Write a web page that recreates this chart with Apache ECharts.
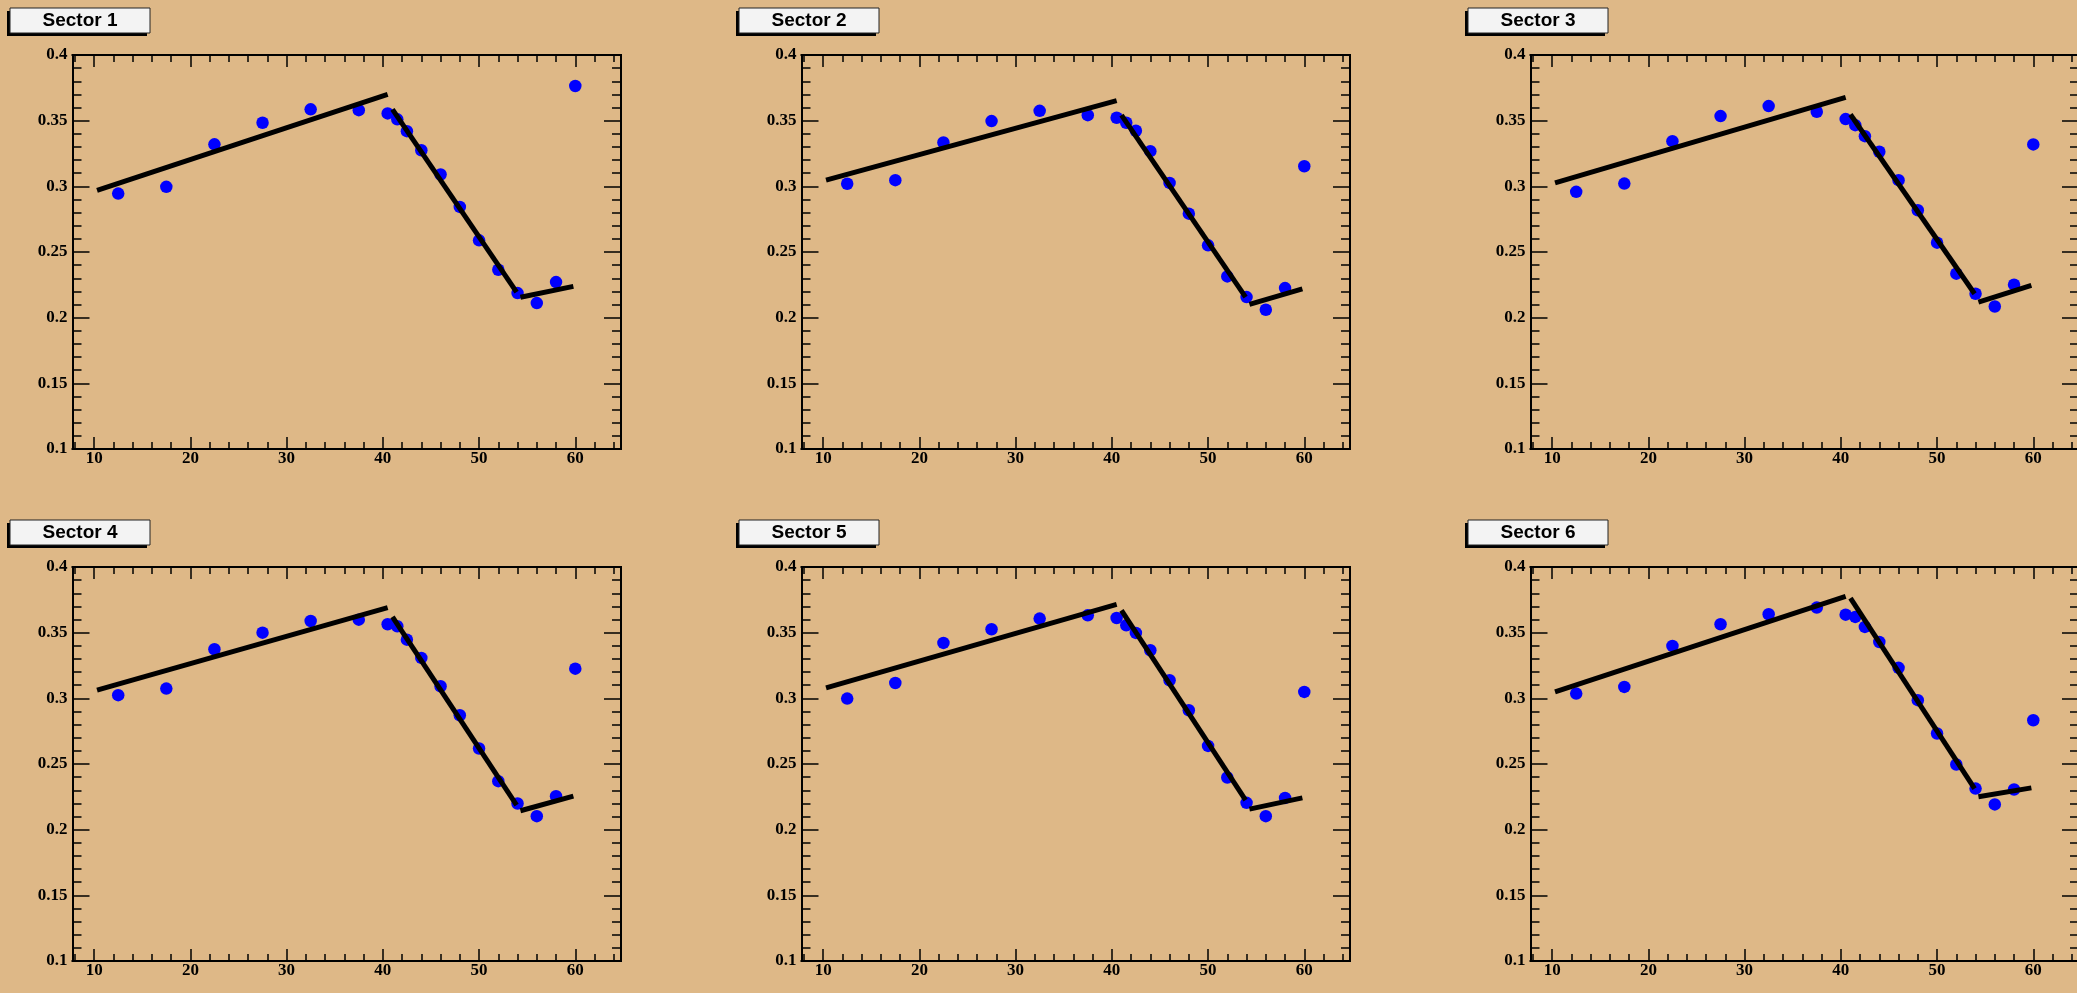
<!DOCTYPE html>
<html><head><meta charset="utf-8">
<script src="https://cdn.jsdelivr.net/npm/echarts@6/dist/echarts.min.js"></script>
<style>html,body{margin:0;padding:0;background:#deb887;overflow:hidden}#c{width:2077px;height:993px}</style>
</head><body><div id="c"></div>
<script>
const sectorNames = ['Sector 1', 'Sector 2', 'Sector 3', 'Sector 4', 'Sector 5', 'Sector 6'];
const xValues = [12.5, 17.5, 22.5, 27.5, 32.5, 37.5, 40.5, 41.5, 42.5, 44, 46, 48, 50, 52, 54, 56, 58, 60];
const sector1Y = [0.2945, 0.2996, 0.332, 0.3484, 0.3586, 0.358, 0.3555, 0.351, 0.342, 0.3275, 0.309, 0.2843, 0.2589, 0.2365, 0.2187, 0.2111, 0.2271, 0.3764];
const sector2Y = [0.302, 0.3047, 0.3334, 0.3497, 0.3575, 0.3542, 0.3522, 0.3484, 0.3423, 0.3268, 0.3026, 0.2792, 0.2551, 0.2314, 0.2157, 0.206, 0.2225, 0.3153];
const sector3Y = [0.2958, 0.3021, 0.3344, 0.3535, 0.3611, 0.3568, 0.3512, 0.3466, 0.3382, 0.3263, 0.3047, 0.2818, 0.2571, 0.2335, 0.2182, 0.2085, 0.2251, 0.3319];
const sector4Y = [0.3024, 0.3074, 0.3374, 0.35, 0.3589, 0.3599, 0.3564, 0.3549, 0.3447, 0.3308, 0.3092, 0.2871, 0.2618, 0.2369, 0.2199, 0.2103, 0.2255, 0.3226];
const sector5Y = [0.2998, 0.3117, 0.3422, 0.3526, 0.3607, 0.3632, 0.3612, 0.3556, 0.3498, 0.3366, 0.3138, 0.2909, 0.2638, 0.2397, 0.2204, 0.2103, 0.2242, 0.3049];
const sector6Y = [0.3036, 0.3087, 0.3399, 0.3564, 0.364, 0.3691, 0.3637, 0.362, 0.3544, 0.3429, 0.3232, 0.2986, 0.2732, 0.2496, 0.2313, 0.2192, 0.2306, 0.2833];
// fit segments: x ranges and y at segment ends
const fitX = [[10.3, 40.5], [41.0, 53.9], [54.3, 59.8]];
const sector1Fit = [[0.297, 0.370], [0.3586, 0.2195], [0.2155, 0.2238]];
const sector2Fit = [[0.3047, 0.3652], [0.3542, 0.2157], [0.2101, 0.222]];
const sector3Fit = [[0.3026, 0.3677], [0.3547, 0.2182], [0.2119, 0.2246]];
const sector4Fit = [[0.3062, 0.3691], [0.362, 0.2187], [0.2144, 0.2255]];
const sector5Fit = [[0.3079, 0.3716], [0.367, 0.2225], [0.2156, 0.2242]];
const sector6Fit = [[0.3049, 0.3776], [0.3763, 0.2313], [0.225, 0.2318]];
const xMajorTicks = [10, 20, 30, 40, 50, 60];
const xMinorTicks = [8, 12, 14, 16, 18, 22, 24, 26, 28, 32, 34, 36, 38, 42, 44, 46, 48, 52, 54, 56, 58, 62, 64];
const yMajorTicks = [0.1, 0.15, 0.2, 0.25, 0.3, 0.35, 0.4];
const yMinorTicks = [0.11, 0.12, 0.13, 0.14, 0.16, 0.17, 0.18, 0.19, 0.21, 0.22, 0.23, 0.24, 0.26, 0.27, 0.28, 0.29, 0.31, 0.32, 0.33, 0.34, 0.36, 0.37, 0.38, 0.39];
const X_MIN = 7.75, X_MAX = 64.75, Y_MIN = 0.1, Y_MAX = 0.4;

const allY = [sector1Y, sector2Y, sector3Y, sector4Y, sector5Y, sector6Y];
const allFit = [sector1Fit, sector2Fit, sector3Fit, sector4Fit, sector5Fit, sector6Fit];

const chart = echarts.init(document.getElementById('c'), null, {renderer: 'canvas'});
const grids = [], xAxes = [], yAxes = [], series = [], graphics = [];
const labelFont = {color: '#000', fontFamily: '"Liberation Serif", "DejaVu Serif", serif', fontWeight: 'bold', fontSize: 17};
const lineStyle = {color: '#000', width: 2};
const tickStyle = {color: '#000', width: 1.5};

function xAx(gi, pos, ticks, len, labels) {
  return {
    type: 'value', gridIndex: gi, min: X_MIN, max: X_MAX, position: pos,
    axisLine: {show: true, onZero: false, lineStyle: lineStyle},
    axisTick: {show: true, inside: true, length: len, customValues: ticks, lineStyle: tickStyle},
    axisLabel: labels ? Object.assign({show: true, margin: 1, customValues: xMajorTicks, formatter: v => String(v)}, labelFont) : {show: false},
    splitLine: {show: false}, minorTick: {show: false}
  };
}
function yAx(gi, pos, ticks, len, labels) {
  return {
    type: 'value', gridIndex: gi, min: Y_MIN, max: Y_MAX, position: pos,
    axisLine: {show: true, onZero: false, lineStyle: lineStyle},
    axisTick: {show: true, inside: true, length: len, customValues: ticks, lineStyle: tickStyle},
    axisLabel: labels ? Object.assign({show: true, margin: 5, customValues: yMajorTicks, formatter: v => String(+(+v).toFixed(2))}, labelFont) : {show: false},
    splitLine: {show: false}, minorTick: {show: false}
  };
}

for (let i = 0; i < 6; i++) {
  const col = i % 3, row = Math.floor(i / 3);
  const ox = col * 729, oy = row * 512;
  grids.push({left: ox + 72.5, top: oy + 55, width: 548.5, height: 394, containLabel: false, outerBoundsMode: 'none', show: false});
  const xi = xAxes.length, yi = yAxes.length;
  xAxes.push(xAx(i, 'bottom', xMajorTicks, 12, true));
  xAxes.push(xAx(i, 'bottom', xMinorTicks, 7, false));
  xAxes.push(xAx(i, 'top', xMajorTicks, 12, false));
  xAxes.push(xAx(i, 'top', xMinorTicks, 7, false));
  yAxes.push(yAx(i, 'left', yMajorTicks, 17, true));
  yAxes.push(yAx(i, 'left', yMinorTicks, 9, false));
  yAxes.push(yAx(i, 'right', yMajorTicks, 17, false));
  yAxes.push(yAx(i, 'right', yMinorTicks, 9, false));

  series.push({
    type: 'scatter', xAxisIndex: xi, yAxisIndex: yi, symbol: 'circle', symbolSize: 12.5,
    itemStyle: {color: '#0000ff', opacity: 1}, z: 2, animation: false,
    data: xValues.map((x, k) => [x, allY[i][k]])
  });
  for (let s = 0; s < 3; s++) {
    series.push({
      type: 'line', xAxisIndex: xi, yAxisIndex: yi, symbol: 'none', z: 3, animation: false,
      lineStyle: {color: '#000', width: 5, cap: 'butt'},
      data: [[fitX[s][0], allFit[i][s][0]], [fitX[s][1], allFit[i][s][1]]]
    });
  }
  const bx = ox + 10, by = oy + 8;
  graphics.push({type: 'rect', shape: {x: bx - 3, y: by + 3, width: 140, height: 25}, style: {fill: '#000'}, z: 10});
  graphics.push({type: 'rect', shape: {x: bx, y: by, width: 140, height: 25}, style: {fill: '#f3f3f3', stroke: '#222', lineWidth: 1}, z: 11});
  graphics.push({type: 'text', x: bx + 70, y: by + 13, z: 12,
    style: {text: sectorNames[i], fill: '#000', font: 'bold 19px "Liberation Sans", Arial, sans-serif', textAlign: 'center', textVerticalAlign: 'middle', verticalAlign: 'middle', align: 'center'}});
}

chart.setOption({
  backgroundColor: '#deb887',
  animation: false,
  grid: grids, xAxis: xAxes, yAxis: yAxes, series: series, graphic: graphics
});
</script></body></html>
